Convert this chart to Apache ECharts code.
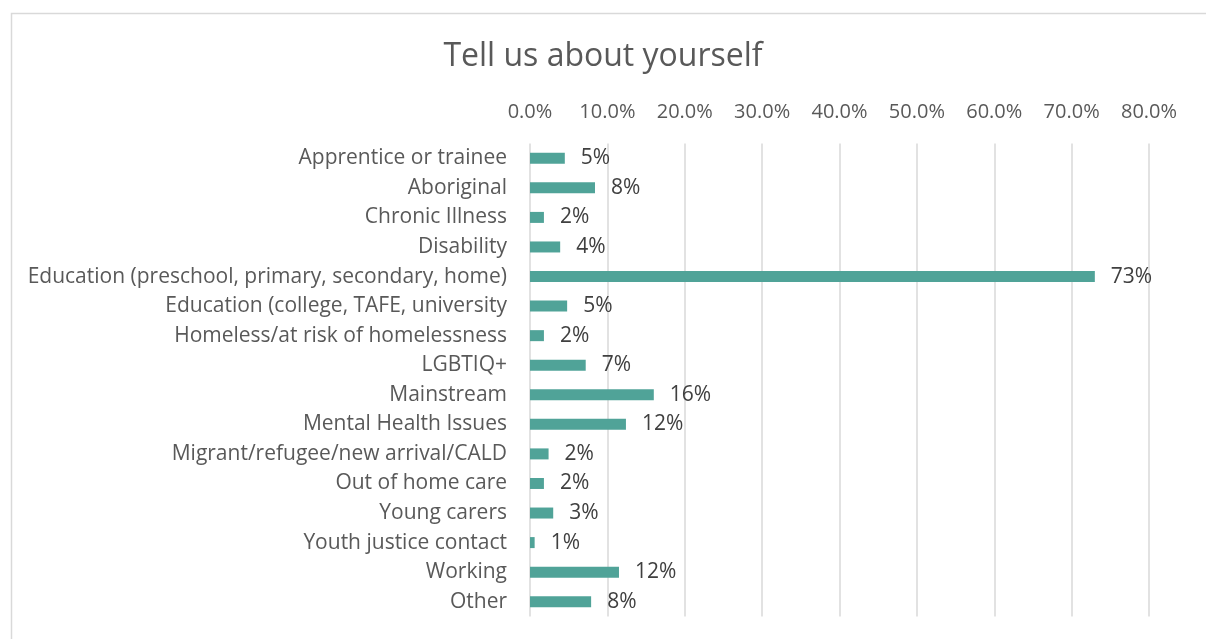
<!DOCTYPE html>
<html>
<head>
<meta charset="utf-8">
<script src="https://cdn.jsdelivr.net/npm/echarts@6/dist/echarts.min.js"></script>
<style>
html,body{margin:0;padding:0;background:#fff;}
#c{width:1206px;height:639px;}
</style>
</head>
<body>
<div id="c"></div>
<script>
const categories = [
  'Apprentice or trainee',
  'Aboriginal',
  'Chronic Illness',
  'Disability',
  'Education (preschool, primary, secondary, home)',
  'Education (college, TAFE, university',
  'Homeless/at risk of homelessness',
  'LGBTIQ+',
  'Mainstream',
  'Mental Health Issues',
  'Migrant/refugee/new arrival/CALD',
  'Out of home care',
  'Young carers',
  'Youth justice contact',
  'Working',
  'Other'
];
const values = [4.5, 8.4, 1.8, 3.9, 73.0, 4.8, 1.8, 7.2, 16.0, 12.4, 2.4, 1.8, 3.0, 0.6, 11.5, 7.9];
const xMin = 0, xMax = 80, xStep = 10;

const chart = echarts.init(document.getElementById('c'));
const FONT = 'Open Sans';
chart.setOption({
  backgroundColor: '#fff',
  animation: false,
  title: {
    text: 'Tell us about yourself',
    left: 'center',
    top: 36,
    textStyle: {fontFamily: FONT, fontSize: 32, fontWeight: 'normal', color: '#595959'}
  },
  graphic: [{
    type: 'rect', left: 9, top: 11, silent: true,
    shape: {width: 1220, height: 660},
    style: {fill: 'none', stroke: '#d9d9d9', lineWidth: 1.5}
  }],
  grid: {left: 530, right: 57, top: 143.5, bottom: 22.5, containLabel: false},
  xAxis: {
    type: 'value', position: 'top', min: xMin, max: xMax, interval: xStep,
    axisLine: {show: false}, axisTick: {show: false},
    splitLine: {show: true, lineStyle: {color: '#d9d9d9', width: 1.5}},
    axisLabel: {
      fontFamily: FONT, fontSize: 20, color: '#595959', margin: 21,
      formatter: v => v.toFixed(1) + '%'
    }
  },
  yAxis: {
    type: 'category', data: categories, inverse: true,
    axisLine: {show: false}, axisTick: {show: false},
    axisLabel: {fontFamily: FONT, fontSize: 21, color: '#595959', margin: 23, padding: [4, 0, 0, 0]}
  },
  series: [{
    type: 'bar', data: values, barWidth: 11,
    itemStyle: {color: '#50A398'},
    label: {
      show: true, position: 'right', distance: 16,
      fontFamily: FONT, fontSize: 21, color: '#404040', padding: [6, 0, 0, 0],
      formatter: p => Math.round(p.value) + '%'
    }
  }]
});
</script>
</body>
</html>
